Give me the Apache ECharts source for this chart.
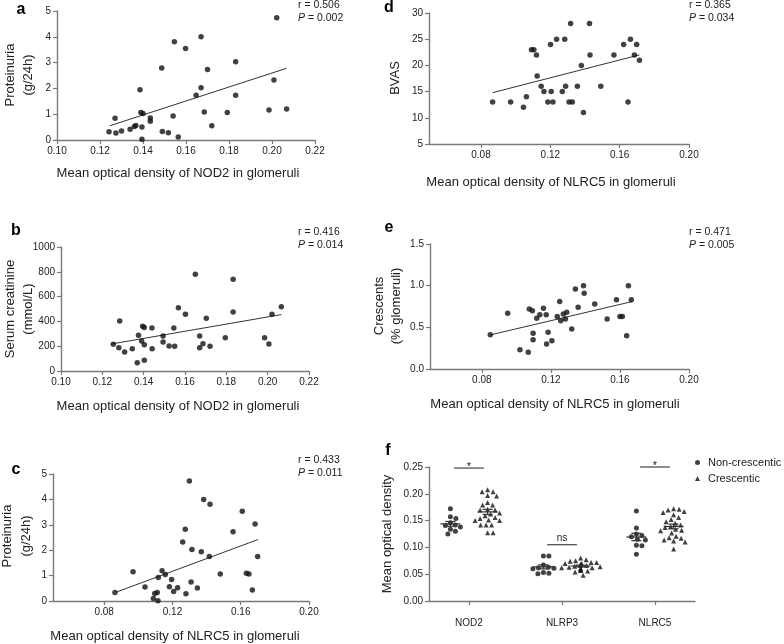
<!DOCTYPE html>
<html><head><meta charset="utf-8">
<script src="https://cdn.jsdelivr.net/npm/echarts@6/dist/echarts.min.js"></script>
<style>html,body{margin:0;padding:0;background:#fff}#c{width:784px;height:644px}</style>
</head><body><div id="c"></div>
<script>
// ---------------- DATA ----------------
// Panel a: NOD2 optical density vs proteinuria (g/24h)
const aPoints = [[0.1242,0.32],[0.127,0.84],[0.1274,0.27],[0.130,0.35],[0.134,0.42],[0.136,0.52],[0.1367,0.56],[0.1386,1.95],[0.139,1.07],[0.140,1.03],[0.1395,0.50],[0.1395,0.03],[0.1434,0.85],[0.1434,0.73],[0.1487,2.79],[0.149,0.33],[0.1518,0.28],[0.154,0.93],[0.1546,3.81],[0.1564,0.12],[0.1598,3.55],[0.1647,1.73],[0.167,2.03],[0.167,4.0],[0.1685,1.09],[0.170,2.73],[0.172,0.55],[0.1792,1.07],[0.1831,3.03],[0.1831,1.73],[0.2022,4.74],[0.2009,2.33],[0.1986,1.16],[0.2068,1.20]];
const aFit = [[0.1245,0.55],[0.2068,2.78]];
// Panel b: NOD2 vs serum creatinine (mmol/L)
const bPoints = [[0.1253,215],[0.128,188],[0.1284,403],[0.1308,153],[0.1345,180],[0.1369,67],[0.1375,288],[0.139,242],[0.1395,360],[0.1403,350],[0.1403,212],[0.1403,86],[0.144,347],[0.1441,180],[0.1494,282],[0.1494,234],[0.1523,202],[0.1546,347],[0.155,199],[0.1568,511],[0.1602,457],[0.165,780],[0.1671,282],[0.1671,188],[0.1687,220],[0.1703,425],[0.1721,199],[0.1795,269],[0.1833,739],[0.1833,476],[0.1985,269],[0.2006,218],[0.2021,457],[0.2066,519]];
const bFit = [[0.1245,218],[0.2066,455]];
// Panel c: NLRC5 vs proteinuria
const cPoints = [[0.0863,0.33],[0.0969,1.15],[0.1039,0.55],[0.1088,0.10],[0.1096,0.30],[0.1111,0.33],[0.1115,0.01],[0.1117,0.93],[0.1139,1.19],[0.1158,1.04],[0.1182,0.56],[0.1195,0.85],[0.1207,0.37],[0.123,0.52],[0.126,2.32],[0.1275,2.82],[0.1279,0.29],[0.1299,4.72],[0.1309,0.75],[0.1314,2.03],[0.1346,0.51],[0.1369,1.94],[0.1383,4.0],[0.1416,1.75],[0.142,3.81],[0.148,1.06],[0.1555,2.73],[0.1609,3.53],[0.1633,1.09],[0.1648,1.06],[0.1668,0.43],[0.1684,3.03],[0.1699,1.75]];
const cFit = [[0.0871,0.35],[0.1701,2.42]];
// Panel d: NLRC5 vs BVAS
const dPoints = [[0.0867,13],[0.0971,13],[0.1045,12],[0.1062,14],[0.1091,23],[0.1105,23],[0.112,22],[0.1124,18],[0.1147,16],[0.1163,15],[0.1186,13],[0.1201,24],[0.1205,15],[0.1215,13],[0.1236,25],[0.1269,15],[0.1283,25],[0.1288,16],[0.1308,13],[0.1317,28],[0.1327,13],[0.1356,16],[0.1379,20],[0.1391,11],[0.1426,28],[0.1429,22],[0.1491,16],[0.1567,22],[0.1623,24],[0.1648,13],[0.1662,25],[0.1698,24],[0.1685,22],[0.1714,21]];
const dFit = [[0.0867,14.8],[0.1714,22.0]];
// Panel e: NLRC5 vs crescents (% glomeruli)
const ePoints = [[0.0849,0.41],[0.095,0.67],[0.1021,0.23],[0.1069,0.20],[0.1075,0.72],[0.1093,0.70],[0.1097,0.43],[0.1097,0.35],[0.1118,0.61],[0.1136,0.65],[0.1157,0.73],[0.1173,0.65],[0.1175,0.30],[0.1184,0.44],[0.1206,0.34],[0.1237,0.63],[0.1251,0.81],[0.1257,0.58],[0.1272,0.66],[0.1284,0.60],[0.1292,0.68],[0.1321,0.48],[0.1342,0.96],[0.1358,0.74],[0.1389,1.00],[0.1393,0.91],[0.1454,0.78],[0.1526,0.60],[0.158,0.83],[0.16,0.63],[0.1614,0.63],[0.1639,0.40],[0.1649,1.00],[0.1666,0.83]];
const eFit = [[0.0851,0.41],[0.1672,0.81]];
const stats = [['r = 0.506','0.002'],['r = 0.416','0.014'],['r = 0.433','0.011'],['r = 0.365','0.034'],['r = 0.471','0.005']];
// Panel f: mean optical density by group
const fCategories = ['NOD2','NLRP3','NLRC5'];
const fNonCrescentic = [
  [0.172,0.157,0.154,0.146,0.142,0.141,0.138,0.134,0.130,0.125],
  [0.084,0.084,0.067,0.063,0.062,0.061,0.060,0.053,0.052,0.051],
  [0.168,0.136,0.125,0.122,0.120,0.115,0.114,0.104,0.103,0.087]
];
const fCrescentic = [
  [0.2075,0.204,0.204,0.197,0.196,0.184,0.179,0.179,0.171,0.170,0.170,0.164,0.1625,0.159,0.156,0.154,0.151,0.150,0.150,0.142,0.142,0.142,0.1275,0.1275],
  [0.080,0.077,0.075,0.074,0.072,0.072,0.070,0.070,0.068,0.068,0.066,0.066,0.065,0.064,0.063,0.062,0.062,0.060,0.060,0.058,0.057,0.056,0.054,0.048],
  [0.172,0.171,0.170,0.167,0.165,0.161,0.156,0.152,0.148,0.145,0.142,0.139,0.137,0.134,0.132,0.131,0.127,0.121,0.118,0.117,0.114,0.112,0.110,0.097]
];
const fSigY = [0.248,0.105,0.250];
const fSigLabel = ['*','ns','*'];

// ---------------- LAYOUT ----------------
const FONT = "'Liberation Sans', Arial, Helvetica, sans-serif";
const AXC = '#7a7a7a', TXT = '#222';
const grids = [
  {left:57, top:11, width:258, height:129},
  {left:61, top:247, width:248, height:124},
  {left:53, top:474, width:256, height:127},
  {left:429, top:13, width:260, height:131},
  {left:430, top:244, width:259, height:125},
  {left:429, top:467, width:266, height:134}
];
const F_XMIN = -0.43, F_XMAX = 2.43, F_YMIN = 0, F_YMAX = 0.25;
const F_SIDE = 0.2;

function baseAxis(gi){
  return {
    gridIndex: gi, type:'value',
    axisLine:{show:true, onZero:false, lineStyle:{color:AXC, width:1.4}},
    axisTick:{show:true, inside:false, length:4, lineStyle:{color:AXC, width:1.2}},
    splitLine:{show:false},
    axisLabel:{fontFamily:FONT, fontSize:10, color:TXT, margin:6}
  };
}
function xA(gi, min, max, interval, custom, dec){
  const a = baseAxis(gi);
  a.min = min; a.max = max;
  if (interval) a.interval = interval;
  a.axisLabel.formatter = v => (+v).toFixed(dec);
  if (custom){ a.axisTick.customValues = custom; a.axisLabel.customValues = custom; }
  return a;
}
function yA(gi, min, max, interval, dec){
  const a = baseAxis(gi);
  a.min = min; a.max = max; a.interval = interval;
  a.axisLabel.formatter = v => (+v).toFixed(dec);
  return a;
}
const nlrcTicks = [0.08,0.12,0.16,0.20];
const xAxes = [
  xA(0,0.10,0.22,0.02,null,2),
  xA(1,0.10,0.22,0.02,null,2),
  xA(2,0.05,0.20,null,nlrcTicks,2),
  xA(3,0.05,0.20,null,nlrcTicks,2),
  xA(4,0.05,0.20,null,nlrcTicks,2),
  (function(){ const a = baseAxis(5); a.min=F_XMIN; a.max=F_XMAX;
     a.axisTick.customValues=[0,1,2]; a.axisLabel.customValues=[0,1,2];
     a.axisLabel.margin = 17;
     a.axisLabel.formatter = v => fCategories[Math.round(v)] || ''; return a; })()
];
const yAxes = [
  yA(0,0,5,1,0), yA(1,0,1000,200,0), yA(2,0,5,1,0), yA(3,5,30,5,0), yA(4,0,1.5,0.5,1), yA(5,0,0.25,0.05,2)
];

// scatter + fit
const series = [];
[[aPoints,aFit],[bPoints,bFit],[cPoints,cFit],[dPoints,dFit],[ePoints,eFit]].forEach((p,i)=>{
  series.push({type:'line', xAxisIndex:i, yAxisIndex:i, data:p[1], showSymbol:false, symbol:'none',
    lineStyle:{color:'#333', width:1}, silent:true, z:2});
  series.push({type:'scatter', xAxisIndex:i, yAxisIndex:i, data:p[0], symbol:'circle', symbolSize:5.5,
    itemStyle:{color:'#111'}, silent:true, z:3});
});

// beeswarm layout for panel f
const g5 = grids[5];
const pxX = g5.width/(F_XMAX-F_XMIN), pxY = g5.height/(F_YMAX-F_YMIN);
function swarm(values, centerX){
  const placed = [];
  const order = values.map((v,i)=>i).sort((a,b)=>values[b]-values[a]);
  const out = new Array(values.length);
  const minD = 5.4;
  order.forEach(idx=>{
    const py = values[idx]*pxY;
    let chosen = 0;
    for (let k=0;k<80;k++){
      const off = (k===0)?0:((k%2)?1:-1)*Math.ceil(k/2)*0.5;
      const ok = placed.every(q=>{ const dx=q[0]-off, dy=q[1]-py; return dx*dx+dy*dy >= minD*minD; });
      if (ok){ chosen = off; break; }
    }
    placed.push([chosen, py]);
    out[idx] = [centerX + chosen/pxX, values[idx]];
  });
  return out;
}
let nonData = [], creData = [], meanData = [];
function meanSem(arr){
  const n = arr.length, m = arr.reduce((s,v)=>s+v,0)/n;
  const sd = Math.sqrt(arr.reduce((s,v)=>s+(v-m)*(v-m),0)/(n-1));
  return [m, sd/Math.sqrt(n)];
}
fCategories.forEach((c,i)=>{
  nonData = nonData.concat(swarm(fNonCrescentic[i], i-F_SIDE));
  creData = creData.concat(swarm(fCrescentic[i], i+F_SIDE));
  const a = meanSem(fNonCrescentic[i]), b = meanSem(fCrescentic[i]);
  meanData.push([i-F_SIDE, a[0], a[1]]);
  meanData.push([i+F_SIDE, b[0], b[1]]);
});
series.push({name:'Non-crescentic', type:'scatter', xAxisIndex:5, yAxisIndex:5, data:nonData,
  symbol:'circle', symbolSize:5, itemStyle:{color:'#111'}, silent:true, z:3});
series.push({name:'Crescentic', type:'scatter', xAxisIndex:5, yAxisIndex:5, data:creData,
  symbol:'triangle', symbolSize:5, itemStyle:{color:'#111'}, silent:true, z:3});
series.push({type:'custom', xAxisIndex:5, yAxisIndex:5, data:meanData, silent:true, z:4,
  renderItem:function(params, api){
    const x=api.value(0), m=api.value(1), s=api.value(2);
    const pm=api.coord([x,m]), pt=api.coord([x,m+s]), pb=api.coord([x,m-s]);
    const st={stroke:'#333', lineWidth:1.2};
    const hw=10, cw=5;
    return {type:'group', children:[
      {type:'line', shape:{x1:pm[0]-hw,y1:pm[1],x2:pm[0]+hw,y2:pm[1]}, style:st},
      {type:'line', shape:{x1:pt[0],y1:pt[1],x2:pb[0],y2:pb[1]}, style:st},
      {type:'line', shape:{x1:pt[0]-cw,y1:pt[1],x2:pt[0]+cw,y2:pt[1]}, style:st},
      {type:'line', shape:{x1:pb[0]-cw,y1:pb[1],x2:pb[0]+cw,y2:pb[1]}, style:st}
    ]};
  }});
series.push({type:'custom', xAxisIndex:5, yAxisIndex:5, data:fSigY.map((y,i)=>[i,y]), silent:true, z:4,
  renderItem:function(params, api){
    const c=api.value(0), y=api.value(1);
    const p1=api.coord([c-0.16,y]), p2=api.coord([c+0.16,y]);
    const lab=fSigLabel[params.dataIndex];
    const isStar = lab==='*';
    return {type:'group', children:[
      {type:'line', shape:{x1:p1[0],y1:p1[1],x2:p2[0],y2:p2[1]}, style:{stroke:'#444', lineWidth:1.2}},
      {type:'text', x:(p1[0]+p2[0])/2, y:p1[1]+(isStar?4:-1), style:{text:lab, fontFamily:FONT, fontSize:isStar?11:10, fill:TXT, align:'center', verticalAlign:'bottom'}}
    ]};
  }});

// texts
function T(x,y,text,o){
  o=o||{};
  const el={type:'text', x:x, y:y, silent:true, style:Object.assign({text:text, fontFamily:FONT, fontSize:13, fill:TXT, align:'center', verticalAlign:'middle'}, o.style||{})};
  if (o.rotation!==undefined) el.rotation=o.rotation;
  return el;
}
const R = Math.PI/2;
const graphics = [
  T(21,10,'a',{style:{fontSize:16,fontWeight:'bold',fill:'#000'}}),
  T(16,231,'b',{style:{fontSize:16,fontWeight:'bold',fill:'#000'}}),
  T(16,470,'c',{style:{fontSize:16,fontWeight:'bold',fill:'#000'}}),
  T(389,8,'d',{style:{fontSize:16,fontWeight:'bold',fill:'#000'}}),
  T(389,228,'e',{style:{fontSize:16,fontWeight:'bold',fill:'#000'}}),
  T(388,451,'f',{style:{fontSize:16,fontWeight:'bold',fill:'#000'}}),
  // x titles
  T(178,173,'Mean optical density of NOD2 in glomeruli'),
  T(178,406,'Mean optical density of NOD2 in glomeruli'),
  T(175,636,'Mean optical density of NLRC5 in glomeruli'),
  T(551,182,'Mean optical density of NLRC5 in glomeruli'),
  T(555,404,'Mean optical density of NLRC5 in glomeruli'),
  // y titles
  T(10,75,'Proteinuria',{rotation:R}), T(28,75,'(g/24h)',{rotation:R}),
  T(10,309,'Serum creatinine',{rotation:R}), T(28,309,'(mmol/L)',{rotation:R}),
  T(7,536,'Proteinuria',{rotation:R}), T(26,536,'(g/24h)',{rotation:R}),
  T(395,78,'BVAS',{rotation:R}),
  T(379,306,'Crescents',{rotation:R}), T(396,306,'(% glomeruli)',{rotation:R}),
  T(387,534,'Mean optical density',{rotation:R})
];
const statPos = [[298,5],[298,232],[298,460],[689,5],[689,232]];
stats.forEach((s,i)=>{
  const p=statPos[i];
  graphics.push(T(p[0],p[1],s[0],{style:{fontSize:10.5,align:'left'}}));
  graphics.push(T(p[0],p[1]+13,'{i|P} = '+s[1],{style:{fontSize:10.5,align:'left',
    rich:{i:{fontStyle:'italic',fontFamily:FONT,fontSize:10.5,fill:TXT}}}}));
});

const option = {
  animation:false,
  backgroundColor:'#fff',
  grid: grids.map(g=>Object.assign({containLabel:false}, g)),
  xAxis: xAxes, yAxis: yAxes,
  series: series,
  legend:{data:[{name:'Non-crescentic',icon:'circle'},{name:'Crescentic',icon:'triangle'}], orient:'vertical', left:690, top:452,
    itemWidth:5, itemHeight:5, itemGap:5, selectedMode:false,
    textStyle:{fontFamily:FONT, fontSize:11, color:TXT, padding:[0,0,0,3]}},
  graphic: graphics
};
const chart = echarts.init(document.getElementById('c'));
chart.setOption(option);
</script></body></html>
